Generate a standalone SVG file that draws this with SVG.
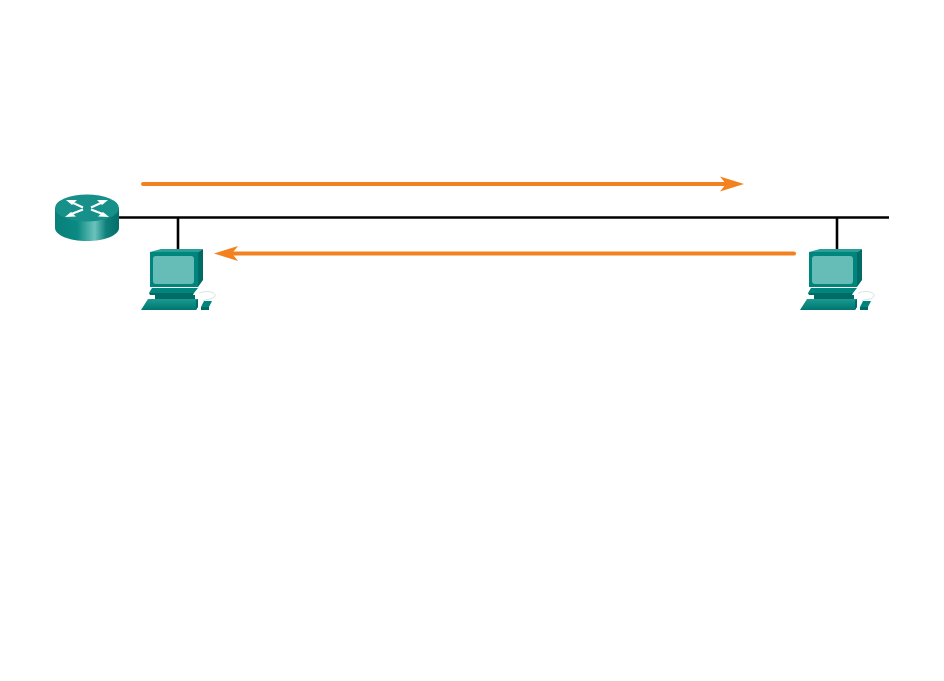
<svg xmlns="http://www.w3.org/2000/svg" xmlns:xlink="http://www.w3.org/1999/xlink" width="944" height="681" viewBox="0 0 944 681">
<style>
.wire{stroke:#000;stroke-width:2.6;fill:none}
.flow{stroke:#f48120;stroke-width:4;fill:none;stroke-linecap:round}
.head{fill:#f48120}
.cab{fill:#00857c}
.dk{fill:#006b66}
.lt{fill:#2a9f97}
.scr{fill:#66bdb8}
.x{stroke:#fff;stroke-width:2;fill:none}
.xh{fill:#fff}
</style>
<defs>
<linearGradient id="cyl" x1="0" x2="1" y1="0" y2="0">
<stop offset="0" stop-color="#0a7f79"/>
<stop offset="0.35" stop-color="#0a8a83"/>
<stop offset="0.62" stop-color="#6cc2bc"/>
<stop offset="0.8" stop-color="#0d8079"/>
<stop offset="1" stop-color="#056e69"/>
</linearGradient>
<linearGradient id="keys" x1="0" x2="0" y1="0" y2="1">
<stop offset="0" stop-color="#1a9a91"/>
<stop offset="1" stop-color="#00766f"/>
</linearGradient>
<g id="pc">
<path class="lt" d="M1 3 L12 0 H54 L49 3Z"/>
<path class="dk" d="M49 3 L54 0 V31 L49 38Z"/>
<path class="cab" d="M1 3 H49 V38 H1Z"/>
<rect class="scr" x="4" y="7" width="41" height="28" rx="3"/>
<path class="cab" d="M3 39 H49 L45 44 H0 Z"/>
<path class="dk" d="M0 44 H45 L44 46 H1Z"/>
<path class="dk" d="M6 46 H46 V50 H6Z"/>
<path d="M-1 50 H49 V57 L47 61 H-8Z" fill="url(#keys)"/>
<path class="dk" d="M47 52 L49 50 V58 L47 61Z"/>
<path class="cab" d="M55 52 H63 L60 58 H52Z"/>
<path class="dk" d="M52 58 H60 V61 H52Z"/>
<path d="M50 44 C58 41 67 43 66 47 C65 51 55 50 54 52" fill="none" stroke="#c5dedc" stroke-width=".8"/>
</g>
</defs>
<rect width="944" height="681" fill="#fff"/>
<g id="connectors">
<path class="wire" d="M116 217.500 H889"/>
<path class="wire" d="M178 217 V249"/>
<path class="wire" d="M837 217 V249"/>
<path class="flow" d="M143 184 H730"/>
<path class="head" d="M720 176.500 L744 184 L720 191.500 L726 184Z"/>
<path class="flow" d="M794 253.500 H226"/>
<path class="head" d="M238 246 L214 253.500 L238 261 L232 253.500Z"/>
</g>
<g id="router">
<path d="M55 208 V228 C55 235 69 241 87 241 C105 241 119 235 119 228 V208Z" fill="url(#cyl)"/>
<ellipse cx="87" cy="208" rx="32" ry="13.500" fill="#17908a"/>
<path class="x" d="M71 202 L83 207.500"/>
<path class="x" d="M103 202 L91 207.500"/>
<path class="x" d="M70 214.500 L83 209.500"/>
<path class="x" d="M104 214.500 L91 209.500"/>
<path class="xh" d="M66 200 L77 200 L72 205Z"/>
<path class="xh" d="M108 200 L97 200 L102 205Z"/>
<path class="xh" d="M65 217 L76 216.500 L71 212Z"/>
<path class="xh" d="M109 217 L98 216.500 L103 212Z"/>
</g>
<g id="pc-left"><use xlink:href="#pc" href="#pc" x="149" y="249"/></g>
<g id="pc-right"><use xlink:href="#pc" href="#pc" x="808" y="249"/></g>
</svg>
